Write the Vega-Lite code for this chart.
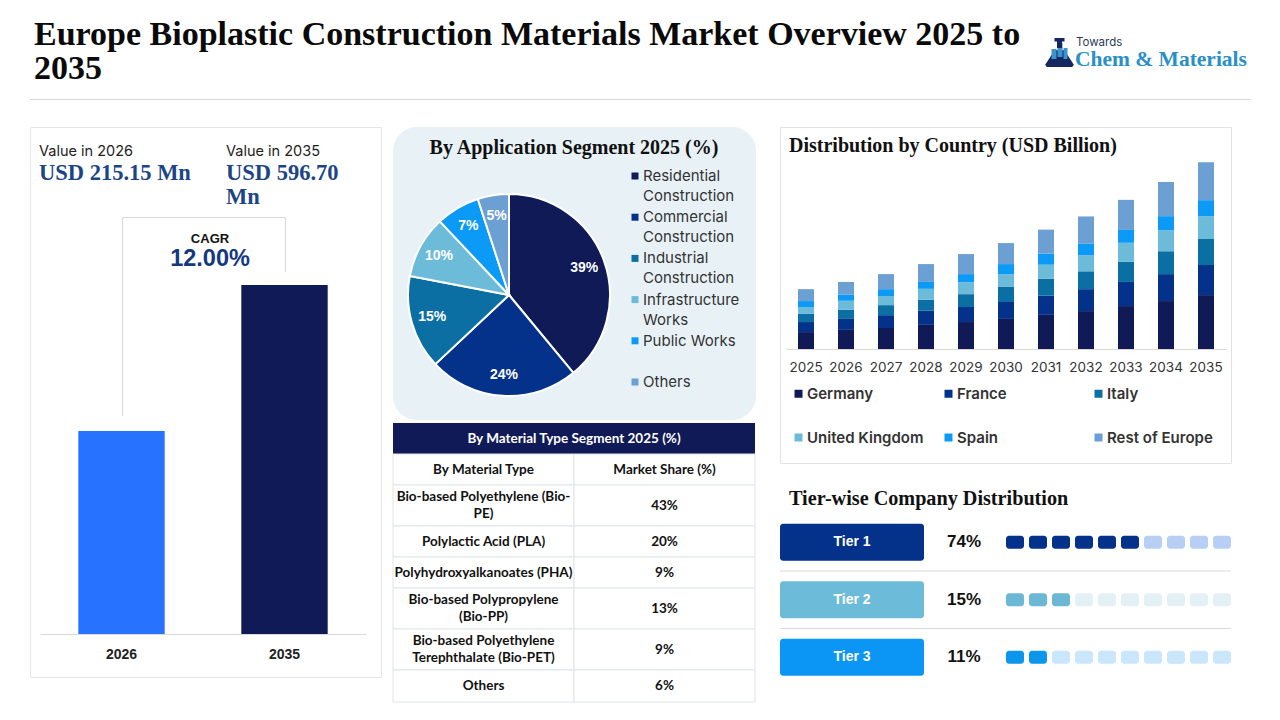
{
"$schema":"https://vega.github.io/schema/vega-lite/v6.json",
"background":"white",
"padding":{"left":29,"top":0,"right":0,"bottom":0},
"spacing":0,
"resolve":{"scale":{"color":"independent"}},
"config":{"view":{"stroke":null},"text":{"font":"Liberation Sans"}},
"datasets":{
"application":[
{"segment":"Residential Construction","label":"Residential\nConstruction","share":39,"rank":1},
{"segment":"Commercial Construction","label":"Commercial\nConstruction","share":24,"rank":2},
{"segment":"Industrial Construction","label":"Industrial\nConstruction","share":15,"rank":3},
{"segment":"Infrastructure Works","label":"Infrastructure\nWorks","share":10,"rank":4},
{"segment":"Public Works","label":"Public Works","share":7,"rank":5},
{"segment":"Others","label":"Others","share":5,"rank":6}],
"material":[
{"row":0,"col":"A","text":"By Material Type"},{"row":0,"col":"B","text":"Market Share (%)"},
{"row":1,"col":"A","text":"Bio-based Polyethylene (Bio-\nPE)"},{"row":1,"col":"B","text":"43%"},
{"row":2,"col":"A","text":"Polylactic Acid (PLA)"},{"row":2,"col":"B","text":"20%"},
{"row":3,"col":"A","text":"Polyhydroxyalkanoates (PHA)"},{"row":3,"col":"B","text":"9%"},
{"row":4,"col":"A","text":"Bio-based Polypropylene\n(Bio-PP)"},{"row":4,"col":"B","text":"13%"},
{"row":5,"col":"A","text":"Bio-based Polyethylene\nTerephthalate (Bio-PET)"},{"row":5,"col":"B","text":"9%"},
{"row":6,"col":"A","text":"Others"},{"row":6,"col":"B","text":"6%"}],
"country":[
{"year":"2025","country":"Germany","value":0.054,"rank":1},{"year":"2025","country":"France","value":0.032,"rank":2},{"year":"2025","country":"Italy","value":0.026,"rank":3},{"year":"2025","country":"United Kingdom","value":0.022,"rank":4},{"year":"2025","country":"Spain","value":0.019,"rank":5},{"year":"2025","country":"Rest of Europe","value":0.038,"rank":6},
{"year":"2026","country":"Germany","value":0.061,"rank":1},{"year":"2026","country":"France","value":0.035,"rank":2},{"year":"2026","country":"Italy","value":0.029,"rank":3},{"year":"2026","country":"United Kingdom","value":0.029,"rank":4},{"year":"2026","country":"Spain","value":0.019,"rank":5},{"year":"2026","country":"Rest of Europe","value":0.041,"rank":6},
{"year":"2027","country":"Germany","value":0.067,"rank":1},{"year":"2027","country":"France","value":0.041,"rank":2},{"year":"2027","country":"Italy","value":0.032,"rank":3},{"year":"2027","country":"United Kingdom","value":0.029,"rank":4},{"year":"2027","country":"Spain","value":0.022,"rank":5},{"year":"2027","country":"Rest of Europe","value":0.048,"rank":6},
{"year":"2028","country":"Germany","value":0.077,"rank":1},{"year":"2028","country":"France","value":0.045,"rank":2},{"year":"2028","country":"Italy","value":0.035,"rank":3},{"year":"2028","country":"United Kingdom","value":0.035,"rank":4},{"year":"2028","country":"Spain","value":0.022,"rank":5},{"year":"2028","country":"Rest of Europe","value":0.057,"rank":6},
{"year":"2029","country":"Germany","value":0.086,"rank":1},{"year":"2029","country":"France","value":0.048,"rank":2},{"year":"2029","country":"Italy","value":0.041,"rank":3},{"year":"2029","country":"United Kingdom","value":0.038,"rank":4},{"year":"2029","country":"Spain","value":0.026,"rank":5},{"year":"2029","country":"Rest of Europe","value":0.064,"rank":6},
{"year":"2030","country":"Germany","value":0.096,"rank":1},{"year":"2030","country":"France","value":0.054,"rank":2},{"year":"2030","country":"Italy","value":0.048,"rank":3},{"year":"2030","country":"United Kingdom","value":0.041,"rank":4},{"year":"2030","country":"Spain","value":0.032,"rank":5},{"year":"2030","country":"Rest of Europe","value":0.067,"rank":6},
{"year":"2031","country":"Germany","value":0.109,"rank":1},{"year":"2031","country":"France","value":0.061,"rank":2},{"year":"2031","country":"Italy","value":0.054,"rank":3},{"year":"2031","country":"United Kingdom","value":0.045,"rank":4},{"year":"2031","country":"Spain","value":0.035,"rank":5},{"year":"2031","country":"Rest of Europe","value":0.077,"rank":6},
{"year":"2032","country":"Germany","value":0.121,"rank":1},{"year":"2032","country":"France","value":0.070,"rank":2},{"year":"2032","country":"Italy","value":0.057,"rank":3},{"year":"2032","country":"United Kingdom","value":0.051,"rank":4},{"year":"2032","country":"Spain","value":0.038,"rank":5},{"year":"2032","country":"Rest of Europe","value":0.086,"rank":6},
{"year":"2033","country":"Germany","value":0.137,"rank":1},{"year":"2033","country":"France","value":0.077,"rank":2},{"year":"2033","country":"Italy","value":0.064,"rank":3},{"year":"2033","country":"United Kingdom","value":0.061,"rank":4},{"year":"2033","country":"Spain","value":0.041,"rank":5},{"year":"2033","country":"Rest of Europe","value":0.096,"rank":6},
{"year":"2034","country":"Germany","value":0.153,"rank":1},{"year":"2034","country":"France","value":0.086,"rank":2},{"year":"2034","country":"Italy","value":0.073,"rank":3},{"year":"2034","country":"United Kingdom","value":0.067,"rank":4},{"year":"2034","country":"Spain","value":0.045,"rank":5},{"year":"2034","country":"Rest of Europe","value":0.109,"rank":6},
{"year":"2035","country":"Germany","value":0.172,"rank":1},{"year":"2035","country":"France","value":0.096,"rank":2},{"year":"2035","country":"Italy","value":0.083,"rank":3},{"year":"2035","country":"United Kingdom","value":0.073,"rank":4},{"year":"2035","country":"Spain","value":0.051,"rank":5},{"year":"2035","country":"Rest of Europe","value":0.121,"rank":6}],
"tiers":[{"tier":"Tier 1","share":"74%"},{"tier":"Tier 2","share":"15%"},{"tier":"Tier 3","share":"11%"}],
"blocks":[
{"tier":"Tier 1","n":1,"state":"Tier 1 filled"},{"tier":"Tier 1","n":2,"state":"Tier 1 filled"},{"tier":"Tier 1","n":3,"state":"Tier 1 filled"},{"tier":"Tier 1","n":4,"state":"Tier 1 filled"},{"tier":"Tier 1","n":5,"state":"Tier 1 filled"},{"tier":"Tier 1","n":6,"state":"Tier 1 filled"},{"tier":"Tier 1","n":7,"state":"Tier 1 empty"},{"tier":"Tier 1","n":8,"state":"Tier 1 empty"},{"tier":"Tier 1","n":9,"state":"Tier 1 empty"},{"tier":"Tier 1","n":10,"state":"Tier 1 empty"},
{"tier":"Tier 2","n":1,"state":"Tier 2 filled"},{"tier":"Tier 2","n":2,"state":"Tier 2 filled"},{"tier":"Tier 2","n":3,"state":"Tier 2 filled"},{"tier":"Tier 2","n":4,"state":"Tier 2 empty"},{"tier":"Tier 2","n":5,"state":"Tier 2 empty"},{"tier":"Tier 2","n":6,"state":"Tier 2 empty"},{"tier":"Tier 2","n":7,"state":"Tier 2 empty"},{"tier":"Tier 2","n":8,"state":"Tier 2 empty"},{"tier":"Tier 2","n":9,"state":"Tier 2 empty"},{"tier":"Tier 2","n":10,"state":"Tier 2 empty"},
{"tier":"Tier 3","n":1,"state":"Tier 3 filled"},{"tier":"Tier 3","n":2,"state":"Tier 3 filled"},{"tier":"Tier 3","n":3,"state":"Tier 3 empty"},{"tier":"Tier 3","n":4,"state":"Tier 3 empty"},{"tier":"Tier 3","n":5,"state":"Tier 3 empty"},{"tier":"Tier 3","n":6,"state":"Tier 3 empty"},{"tier":"Tier 3","n":7,"state":"Tier 3 empty"},{"tier":"Tier 3","n":8,"state":"Tier 3 empty"},{"tier":"Tier 3","n":9,"state":"Tier 3 empty"},{"tier":"Tier 3","n":10,"state":"Tier 3 empty"}]
},
"vconcat":[
{"width":1221,"height":126,
 "data":{"values":[{"t":"Europe Bioplastic Construction Materials Market Overview 2025 to\n2035","l1":"Towards","l2":"Chem & Materials"}]},
 "layer":[
 {"mark":{"type":"text","font":"Liberation Serif","fontWeight":"bold","fontSize":34,"align":"left","baseline":"alphabetic","lineBreak":"\n","lineHeight":34,"color":"#0a0a0a"},
  "encoding":{"text":{"field":"t"},"x":{"datum":34,"axis":null,"scale":{"domain":[30,1251]}},"y":{"datum":45,"axis":null,"scale":{"domain":[0,126],"range":[0,126]}}}},
 {"mark":{"type":"point","filled":true,"opacity":1,"strokeWidth":0,"size":784,"color":"#14275e","shape":"M-0.35,-0.2 H0.35 L1,0.8 Q1,1 0.8,1 H-0.8 Q-1,1 -1,0.8 Z"},
  "encoding":{"x":{"datum":1059.5,"axis":null,"scale":{"domain":[30,1251]}},"y":{"datum":53,"axis":null,"scale":{"domain":[0,126],"range":[0,126]}}}},
 {"mark":{"type":"point","filled":true,"opacity":1,"strokeWidth":0,"size":400,"color":"#3d93d0","shape":"M-0.8,-0.4 H-0.3 V0.6 H-0.8 Z M-0.2,-1 H0.3 V0.4 H-0.2 Z M0.4,-0.5 H0.8 V0.6 H0.4 Z"},
  "encoding":{"x":{"datum":1059.5,"axis":null,"scale":{"domain":[30,1251]}},"y":{"datum":53,"axis":null,"scale":{"domain":[0,126],"range":[0,126]}}}},
 {"mark":{"type":"point","filled":true,"opacity":1,"strokeWidth":0,"size":100,"color":"#14275e","shape":"M-1,-1 H1 V-0.3 H0.5 V1 H-0.5 V-0.3 H-1 Z"},
  "encoding":{"x":{"datum":1059.5,"axis":null,"scale":{"domain":[30,1251]}},"y":{"datum":43,"axis":null,"scale":{"domain":[0,126],"range":[0,126]}}}},
 {"mark":{"type":"text","font":"Inter","fontSize":11.5,"align":"left","baseline":"middle","color":"#2b3a55"},
  "encoding":{"text":{"field":"l1"},"x":{"datum":1076,"axis":null,"scale":{"domain":[30,1251]}},"y":{"datum":42.5,"axis":null,"scale":{"domain":[0,126],"range":[0,126]}}}},
 {"mark":{"type":"text","font":"Liberation Serif","fontWeight":"bold","fontSize":21.5,"align":"left","baseline":"middle","color":"#2b8fc7"},
  "encoding":{"text":{"field":"l2"},"x":{"datum":1075,"axis":null,"scale":{"domain":[30,1251]}},"y":{"datum":59.5,"axis":null,"scale":{"domain":[0,126],"range":[0,126]}}}},
 {"mark":{"type":"rule","color":"#d9d9d9","strokeWidth":1},
  "encoding":{"x":{"datum":30,"axis":null,"scale":{"domain":[30,1251]}},"x2":{"datum":1251},"y":{"datum":99.5,"axis":null,"scale":{"domain":[0,126],"range":[0,126]}}}}
 ]},
{"spacing":23,"resolve":{"scale":{"color":"independent"}},"hconcat":[
 {"spacing":10,"resolve":{"scale":{"color":"independent"}},"hconcat":[
  {"width":351,"height":550,"view":{"stroke":"#e6e6e6","fill":"white"},
   "resolve":{"scale":{"x":"independent","y":"independent"}},
   "layer":[
   {"data":{"values":[{"year":"2026","index":58.2},{"year":"2035","index":100}]},
    "mark":{"type":"bar"},
    "encoding":{
     "x":{"field":"year","type":"ordinal","scale":{"range":[10,336],"paddingInner":0.47,"paddingOuter":0.235},"axis":{"title":null,"ticks":false,"labelAngle":0,"domainColor":"#d9d9d9","labelFont":"Liberation Sans","labelFontWeight":"bold","labelFontSize":14,"labelColor":"#222222","labelPadding":13,"offset":-43}},
     "y":{"field":"index","type":"quantitative","scale":{"domain":[0,100],"range":[507,158]},"axis":null},
     "color":{"field":"year","type":"nominal","scale":{"domain":["2026","2035"],"range":["#2772ff","#0f1a57"]},"legend":null}}},
   {"data":{"values":[{"a":"Value in 2026"}]},"mark":{"type":"text","font":"Inter","fontSize":14.5,"align":"left","baseline":"middle","color":"#222222"},
     "encoding":{"text":{"field":"a"},"x":{"datum":39,"axis":null,"scale":{"domain":[30,381]}},"y":{"datum":151.5,"axis":null,"scale":{"domain":[127,677],"range":[0,550]}}}},
   {"data":{"values":[{"a":"Value in 2035"}]},"mark":{"type":"text","font":"Inter","fontSize":14.5,"align":"left","baseline":"middle","color":"#222222"},
     "encoding":{"text":{"field":"a"},"x":{"datum":226,"axis":null,"scale":{"domain":[30,381]}},"y":{"datum":151.5,"axis":null,"scale":{"domain":[127,677],"range":[0,550]}}}},
   {"data":{"values":[{"a":"USD 215.15 Mn"}]},"mark":{"type":"text","font":"Liberation Serif","fontWeight":"bold","fontSize":22.5,"align":"left","baseline":"alphabetic","color":"#1c4587"},
     "encoding":{"text":{"field":"a"},"x":{"datum":39,"axis":null,"scale":{"domain":[30,381]}},"y":{"datum":180,"axis":null,"scale":{"domain":[127,677],"range":[0,550]}}}},
   {"data":{"values":[{"a":"USD 596.70\nMn"}]},"mark":{"type":"text","font":"Liberation Serif","fontWeight":"bold","fontSize":22.5,"align":"left","baseline":"alphabetic","lineBreak":"\n","lineHeight":24,"color":"#1c4587"},
     "encoding":{"text":{"field":"a"},"x":{"datum":226,"axis":null,"scale":{"domain":[30,381]}},"y":{"datum":180,"axis":null,"scale":{"domain":[127,677],"range":[0,550]}}}},
   {"data":{"values":[{"a":"CAGR box"}]},"mark":{"type":"rule","color":"#d9d9d9"},"encoding":{"x":{"datum":122.5,"axis":null,"scale":{"domain":[30,381]}},"x2":{"datum":285.5},"y":{"datum":217.5,"axis":null,"scale":{"domain":[127,677],"range":[0,550]}}}},
   {"data":{"values":[{"a":"CAGR box"}]},"mark":{"type":"rule","color":"#d9d9d9"},"encoding":{"x":{"datum":122.5,"axis":null,"scale":{"domain":[30,381]}},"y":{"datum":217.5,"axis":null,"scale":{"domain":[127,677],"range":[0,550]}},"y2":{"datum":416}}},
   {"data":{"values":[{"a":"CAGR box"}]},"mark":{"type":"rule","color":"#d9d9d9"},"encoding":{"x":{"datum":285.5,"axis":null,"scale":{"domain":[30,381]}},"y":{"datum":217.5,"axis":null,"scale":{"domain":[127,677],"range":[0,550]}},"y2":{"datum":272}}},
   {"data":{"values":[{"a":"CAGR"}]},"mark":{"type":"text","fontWeight":"bold","fontSize":13,"align":"center","baseline":"middle","color":"#111111"},
     "encoding":{"text":{"field":"a"},"x":{"datum":210,"axis":null,"scale":{"domain":[30,381]}},"y":{"datum":238.5,"axis":null,"scale":{"domain":[127,677],"range":[0,550]}}}},
   {"data":{"values":[{"a":"12.00%"}]},"mark":{"type":"text","fontWeight":"bold","fontSize":23.5,"align":"center","baseline":"middle","color":"#14387f"},
     "encoding":{"text":{"field":"a"},"x":{"datum":210,"axis":null,"scale":{"domain":[30,381]}},"y":{"datum":258.5,"axis":null,"scale":{"domain":[127,677],"range":[0,550]}}}}
   ]},
  {"spacing":3,"resolve":{"scale":{"color":"independent"}},"vconcat":[
   {"width":363,"height":293,"view":{"fill":"#e8f2f6","stroke":null,"cornerRadius":24},
    "data":{"name":"application"},
    "resolve":{"scale":{"x":"independent","y":"independent"}},
    "layer":[
    {"encoding":{
      "theta":{"field":"share","type":"quantitative","stack":true,"scale":{"domain":[0,100]}},
      "order":{"field":"rank","type":"quantitative"},
      "x":{"datum":509,"axis":null,"scale":{"domain":[393,756]}},
      "y":{"datum":295,"axis":null,"scale":{"domain":[127,420],"range":[0,293]}}},
     "layer":[
     {"mark":{"type":"arc","outerRadius":101,"stroke":"white","strokeWidth":2},
      "encoding":{"color":{"field":"segment","type":"nominal","sort":null,"scale":{"domain":["Residential Construction","Commercial Construction","Industrial Construction","Infrastructure Works","Public Works","Others"],"range":["#0f1a57","#04318a","#0b6fa4","#6cbbd8","#0b9af5","#6c9fd2"]},"legend":null}}},
     {"transform":[{"calculate":"datum.share + '%'","as":"pct"}],
      "mark":{"type":"text","radius":80,"fontWeight":"bold","fontSize":14,"color":"white","align":"center","baseline":"middle"},
      "encoding":{"text":{"field":"pct"}}}
     ]},
    {"mark":{"type":"point","shape":"square","filled":true,"opacity":1,"size":49,"strokeWidth":0},
      "encoding":{
       "x":{"datum":635,"axis":null,"scale":{"domain":[393,756]}},
       "y":{"field":"segment","type":"nominal","sort":null,"axis":null,"scale":{"type":"point","padding":0,"domain":["Residential Construction","Commercial Construction","Industrial Construction","Infrastructure Works","Public Works","Others"],"range":[49,255]}},
       "color":{"field":"segment","type":"nominal","scale":{"domain":["Residential Construction","Commercial Construction","Industrial Construction","Infrastructure Works","Public Works","Others"],"range":["#0f1a57","#04318a","#0b6fa4","#6cbbd8","#0b9af5","#6c9fd2"]},"legend":null}}},
    {"mark":{"type":"text","font":"Inter","fontSize":15,"align":"left","baseline":"alphabetic","dy":5,"lineBreak":"\n","lineHeight":20,"color":"#333333"},
      "encoding":{
       "text":{"field":"label"},
       "x":{"datum":643,"axis":null,"scale":{"domain":[393,756]}},
       "y":{"field":"segment","type":"nominal","sort":null,"axis":null,"scale":{"type":"point","padding":0,"domain":["Residential Construction","Commercial Construction","Industrial Construction","Infrastructure Works","Public Works","Others"],"range":[49,255]}}}},
    {"data":{"values":[{"t":"By Application Segment 2025 (%)"}]},
     "mark":{"type":"text","font":"Liberation Serif","fontWeight":"bold","fontSize":20,"align":"center","baseline":"middle","color":"#111111"},
     "encoding":{"text":{"field":"t"},
      "x":{"datum":574,"axis":null,"scale":{"domain":[393,756]}},
      "y":{"datum":148,"axis":null,"scale":{"domain":[127,420],"range":[0,293]}}}}
    ]},
   {"spacing":0,"bounds":"flush","vconcat":[
    {"width":362,"height":31,"data":{"values":[{"t":"By Material Type  Segment 2025 (%)"}]},
     "layer":[
     {"mark":{"type":"rect","color":"#0f1a57"}},
     {"mark":{"type":"text","font":"Lato","fontWeight":"bold","fontSize":13.5,"color":"white"},"encoding":{"text":{"field":"t"}}}]},
    {"width":362,"height":31,"data":{"name":"material"},"transform":[{"filter":"datum.row == 0"}],
     "encoding":{"x":{"field":"col","type":"nominal","axis":null,"scale":{"type":"band","paddingInner":0,"paddingOuter":0}}},
     "layer":[
     {"mark":{"type":"rect","fill":"white","stroke":"#dfe4ea"}},
     {"mark":{"type":"text","font":"Lato","fontWeight":"bold","fontSize":13.5,"color":"#111111"},"encoding":{"text":{"field":"text"}}}]},
    {"width":362,"height":41,"data":{"name":"material"},"transform":[{"filter":"datum.row == 1"}],
     "encoding":{"x":{"field":"col","type":"nominal","axis":null,"scale":{"type":"band","paddingInner":0,"paddingOuter":0}}},
     "layer":[
     {"mark":{"type":"rect","fill":"white","stroke":"#dfe4ea"}},
     {"transform":[{"filter":"datum.col == 'A'"}],"mark":{"type":"text","font":"Lato","fontWeight":"bold","fontSize":13.5,"color":"#111111","lineBreak":"\n","lineHeight":17,"dy":-8.5},"encoding":{"text":{"field":"text"}}},
     {"transform":[{"filter":"datum.col == 'B'"}],"mark":{"type":"text","font":"Lato","fontWeight":"bold","fontSize":13.5,"color":"#111111"},"encoding":{"text":{"field":"text"}}}]},
    {"width":362,"height":31,"data":{"name":"material"},"transform":[{"filter":"datum.row == 2"}],
     "encoding":{"x":{"field":"col","type":"nominal","axis":null,"scale":{"type":"band","paddingInner":0,"paddingOuter":0}}},
     "layer":[
     {"mark":{"type":"rect","fill":"white","stroke":"#dfe4ea"}},
     {"mark":{"type":"text","font":"Lato","fontWeight":"bold","fontSize":13.5,"color":"#111111"},"encoding":{"text":{"field":"text"}}}]},
    {"width":362,"height":31,"data":{"name":"material"},"transform":[{"filter":"datum.row == 3"}],
     "encoding":{"x":{"field":"col","type":"nominal","axis":null,"scale":{"type":"band","paddingInner":0,"paddingOuter":0}}},
     "layer":[
     {"mark":{"type":"rect","fill":"white","stroke":"#dfe4ea"}},
     {"mark":{"type":"text","font":"Lato","fontWeight":"bold","fontSize":13.5,"color":"#111111"},"encoding":{"text":{"field":"text"}}}]},
    {"width":362,"height":41,"data":{"name":"material"},"transform":[{"filter":"datum.row == 4"}],
     "encoding":{"x":{"field":"col","type":"nominal","axis":null,"scale":{"type":"band","paddingInner":0,"paddingOuter":0}}},
     "layer":[
     {"mark":{"type":"rect","fill":"white","stroke":"#dfe4ea"}},
     {"transform":[{"filter":"datum.col == 'A'"}],"mark":{"type":"text","font":"Lato","fontWeight":"bold","fontSize":13.5,"color":"#111111","lineBreak":"\n","lineHeight":17,"dy":-8.5},"encoding":{"text":{"field":"text"}}},
     {"transform":[{"filter":"datum.col == 'B'"}],"mark":{"type":"text","font":"Lato","fontWeight":"bold","fontSize":13.5,"color":"#111111"},"encoding":{"text":{"field":"text"}}}]},
    {"width":362,"height":41,"data":{"name":"material"},"transform":[{"filter":"datum.row == 5"}],
     "encoding":{"x":{"field":"col","type":"nominal","axis":null,"scale":{"type":"band","paddingInner":0,"paddingOuter":0}}},
     "layer":[
     {"mark":{"type":"rect","fill":"white","stroke":"#dfe4ea"}},
     {"transform":[{"filter":"datum.col == 'A'"}],"mark":{"type":"text","font":"Lato","fontWeight":"bold","fontSize":13.5,"color":"#111111","lineBreak":"\n","lineHeight":17,"dy":-8.5},"encoding":{"text":{"field":"text"}}},
     {"transform":[{"filter":"datum.col == 'B'"}],"mark":{"type":"text","font":"Lato","fontWeight":"bold","fontSize":13.5,"color":"#111111"},"encoding":{"text":{"field":"text"}}}]},
    {"width":362,"height":32,"data":{"name":"material"},"transform":[{"filter":"datum.row == 6"}],
     "encoding":{"x":{"field":"col","type":"nominal","axis":null,"scale":{"type":"band","paddingInner":0,"paddingOuter":0}}},
     "layer":[
     {"mark":{"type":"rect","fill":"white","stroke":"#dfe4ea"}},
     {"mark":{"type":"text","font":"Lato","fontWeight":"bold","fontSize":13.5,"color":"#111111"},"encoding":{"text":{"field":"text"}}}]}
    ]}
   ]}
  ]},
 {"spacing":0,"bounds":"flush","resolve":{"scale":{"color":"independent"}},"vconcat":[
  {"width":451,"height":336,"view":{"stroke":"#e2e2e2","fill":"white"},
   "resolve":{"scale":{"x":"independent","y":"independent"}},
   "layer":[
   {"data":{"name":"country"},
    "mark":{"type":"bar"},
    "encoding":{
     "x":{"field":"year","type":"ordinal","scale":{"range":[6,446],"paddingInner":0.6,"paddingOuter":0.3},"axis":{"title":null,"ticks":false,"labelAngle":0,"domainColor":"#d9d9d9","labelFont":"Inter","labelFontSize":13.5,"labelColor":"#333333","labelPadding":11,"offset":-114}},
     "y":{"field":"value","type":"quantitative","stack":true,"scale":{"domain":[0,0.6],"range":[222,34]},"axis":null},
     "color":{"field":"country","type":"nominal","scale":{"domain":["Germany","France","Italy","United Kingdom","Spain","Rest of Europe"],"range":["#0f1a57","#04318a","#0b6fa4","#6cbbd8","#0b9af5","#6c9fd2"]},
      "legend":{"title":null,"orient":"none","legendX":11,"legendY":259,"direction":"horizontal","columns":3,"symbolType":"square","symbolSize":64,"symbolStrokeWidth":0,"labelFont":"Inter","labelFontWeight":600,"labelFontSize":15,"labelColor":"#333333","rowPadding":28,"columnPadding":17,"labelOffset":1,"gridAlign":"all"}},
     "order":{"field":"rank","type":"quantitative"}}},
   {"data":{"values":[{"t":"Distribution by Country (USD Billion)"}]},
    "mark":{"type":"text","font":"Liberation Serif","fontWeight":"bold","fontSize":20,"align":"left","baseline":"middle","color":"#111111"},
    "encoding":{"text":{"field":"t"},
     "x":{"datum":789,"axis":null,"scale":{"domain":[780,1231]}},
     "y":{"datum":146,"axis":null,"scale":{"domain":[127,463],"range":[0,336]}}}}
   ]},
  {"width":451,"height":257,
   "resolve":{"scale":{"x":"independent","y":"independent","color":"independent"}},
   "layer":[
   {"data":{"name":"tiers"},
    "mark":{"type":"rect","height":37,"cornerRadius":3},
    "encoding":{"x":{"datum":780,"axis":null,"scale":{"domain":[780,1231]}},"x2":{"datum":924},
     "y":{"field":"tier","type":"nominal","axis":null,"scale":{"type":"band","domain":["Tier 1","Tier 2","Tier 3"],"range":[50.5,223],"paddingInner":0,"paddingOuter":0}},
     "color":{"field":"tier","type":"nominal","scale":{"domain":["Tier 1","Tier 2","Tier 3"],"range":["#04318a","#6cbbd8","#0b96f5"]},"legend":null}}},
   {"data":{"name":"tiers"},"transform":[{"filter":"datum.tier != 'Tier 3'"}],
    "mark":{"type":"rule","color":"#d9d9d9"},
    "encoding":{"x":{"datum":780,"axis":null,"scale":{"domain":[780,1231]}},"x2":{"datum":1231},
     "y":{"field":"tier","type":"nominal","bandPosition":1,"axis":null,"scale":{"type":"band","domain":["Tier 1","Tier 2","Tier 3"],"range":[50.5,223],"paddingInner":0,"paddingOuter":0}}}},
   {"data":{"name":"tiers"},
    "mark":{"type":"text","fontWeight":"bold","fontSize":14,"color":"white","align":"center"},
    "encoding":{"text":{"field":"tier"},"x":{"datum":852,"axis":null,"scale":{"domain":[780,1231]}},
     "y":{"field":"tier","type":"nominal","axis":null,"scale":{"type":"band","domain":["Tier 1","Tier 2","Tier 3"],"range":[50.5,223],"paddingInner":0,"paddingOuter":0}}}},
   {"data":{"name":"tiers"},
    "mark":{"type":"text","fontWeight":"bold","fontSize":17,"color":"#111111","align":"center"},
    "encoding":{"text":{"field":"share"},"x":{"datum":964,"axis":null,"scale":{"domain":[780,1231]}},
     "y":{"field":"tier","type":"nominal","axis":null,"scale":{"type":"band","domain":["Tier 1","Tier 2","Tier 3"],"range":[50.5,223],"paddingInner":0,"paddingOuter":0}}}},
   {"data":{"name":"blocks"},
    "mark":{"type":"rect","height":13,"cornerRadius":3},
    "encoding":{
     "x":{"field":"n","type":"ordinal","axis":null,"scale":{"type":"band","range":[226,451],"paddingInner":0.217,"paddingOuter":0}},
     "y":{"field":"tier","type":"nominal","axis":null,"scale":{"type":"band","domain":["Tier 1","Tier 2","Tier 3"],"range":[50.5,223],"paddingInner":0,"paddingOuter":0}},
     "color":{"field":"state","type":"nominal","legend":null,"scale":{"domain":["Tier 1 filled","Tier 1 empty","Tier 2 filled","Tier 2 empty","Tier 3 filled","Tier 3 empty"],"range":["#04318a","#b7cff5","#6cb7d4","#e3f1f6","#0b96ec","#c9e6fb"]}}}},
   {"data":{"values":[{"t":"Tier-wise Company Distribution"}]},
    "mark":{"type":"text","font":"Liberation Serif","fontWeight":"bold","fontSize":20.2,"align":"left","baseline":"middle","color":"#111111"},
    "encoding":{"text":{"field":"t"},
     "x":{"datum":789,"axis":null,"scale":{"domain":[780,1231]}},
     "y":{"datum":499,"axis":null,"scale":{"domain":[463,720],"range":[0,257]}}}}
   ]}
  ]}
 ]}
]}
